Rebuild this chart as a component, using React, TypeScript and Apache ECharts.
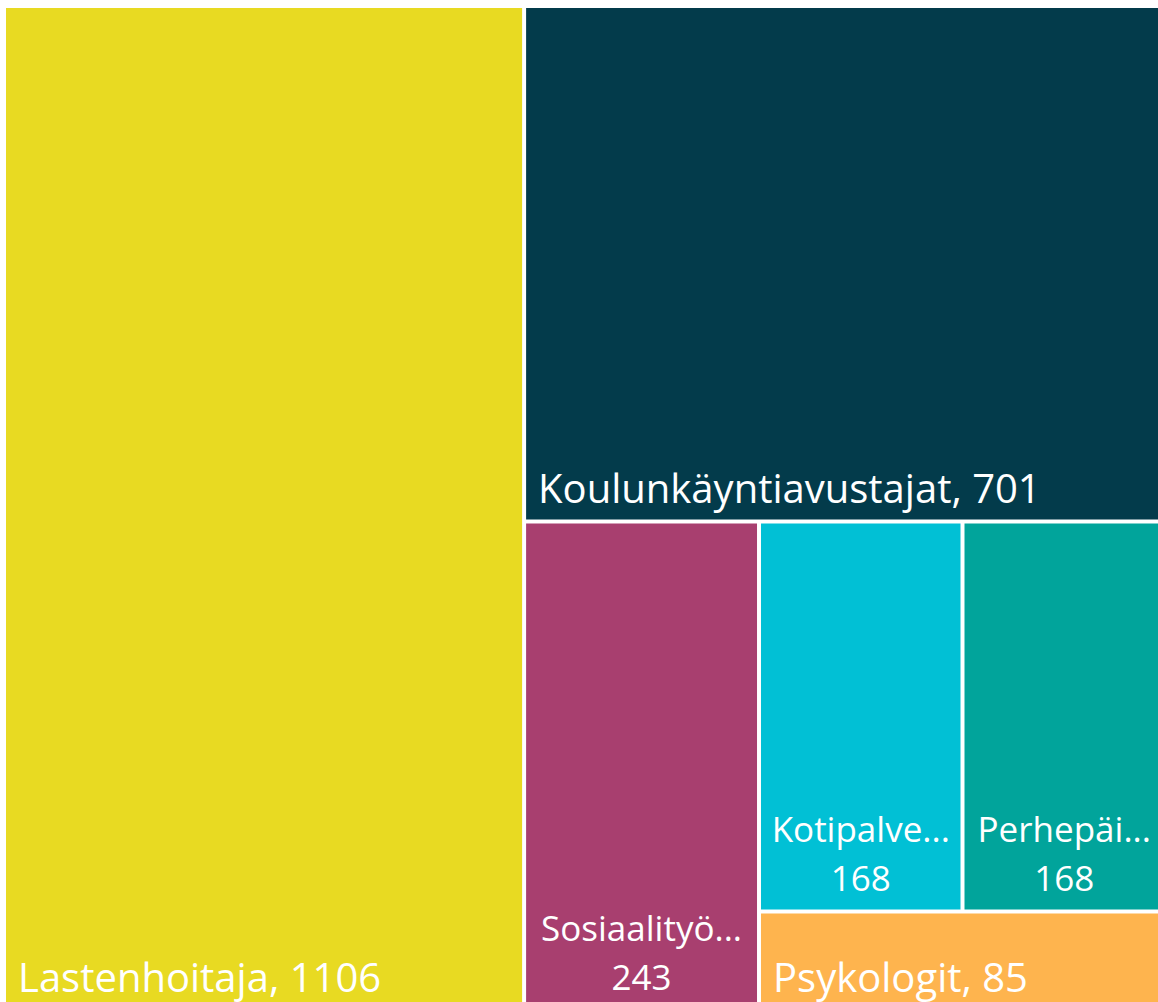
import React, { useEffect, useRef } from "react";
import * as echarts from "echarts";

const names = ["Lastenhoitaja", "Koulunkäyntiavustajat", "Sosiaalityö...", "Kotipalve...", "Perhepäi...", "Psykologit"];
const values = [1106, 701, 243, 168, 168, 85];
const colors = ["#E8DA22", "#033B4B", "#A83F6F", "#01C0D5", "#01A49B", "#FEB44E"];
const inlineLabel = [true, true, false, false, false, true];

const FONT = "'Open Sans', 'Noto Sans', sans-serif";

function leaf(i: number) {
  const big = inlineLabel[i];
  return {
    name: names[i],
    value: values[i],
    itemStyle: { color: colors[i] },
    label: big
      ? {
          show: true,
          position: "insideBottomLeft",
          distance: 12,
          padding: 0,
          formatter: "{b}, {c}",
          fontSize: 40,
          lineHeight: 40,
          color: "#ffffff",
          fontFamily: FONT,
          overflow: "none",
        }
      : {
          show: true,
          position: "insideBottom",
          distance: 7,
          padding: 0,
          align: "center",
          formatter: "{b}\n{c}",
          fontSize: 35,
          lineHeight: 49,
          color: "#ffffff",
          fontFamily: FONT,
          overflow: "none",
        },
  };
}

export default function App() {
  const ref = useRef<HTMLDivElement>(null);
  useEffect(() => {
    if (!ref.current) return;
    const chart = echarts.init(ref.current, null, { renderer: "svg" });
    const data = [
      leaf(0),
      {
        name: "g1",
        children: [
          leaf(1),
          {
            name: "g2",
            children: [
              leaf(2),
              {
                name: "g3",
                children: [
                  { name: "g4", children: [leaf(3), leaf(4)] },
                  leaf(5),
                ],
              },
            ],
          },
        ],
      },
    ];
    chart.setOption({
      animation: false,
      tooltip: { show: false },
      series: [
        {
          type: "treemap",
          left: 6,
          top: 8,
          width: 1158,
          height: 1000,
          roam: false,
          nodeClick: false,
          sort: false,
          squareRatio: 1,
          breadcrumb: { show: false },
          itemStyle: { borderWidth: 0, gapWidth: 4, borderColor: "#ffffff" },
          upperLabel: { show: false },
          data,
        },
      ],
    });
    return () => chart.dispose();
  }, []);
  return (
    <div
      ref={ref}
      style={{ position: "absolute", left: 0, top: 0, width: 1158, height: 1002 }}
    />
  );
}
